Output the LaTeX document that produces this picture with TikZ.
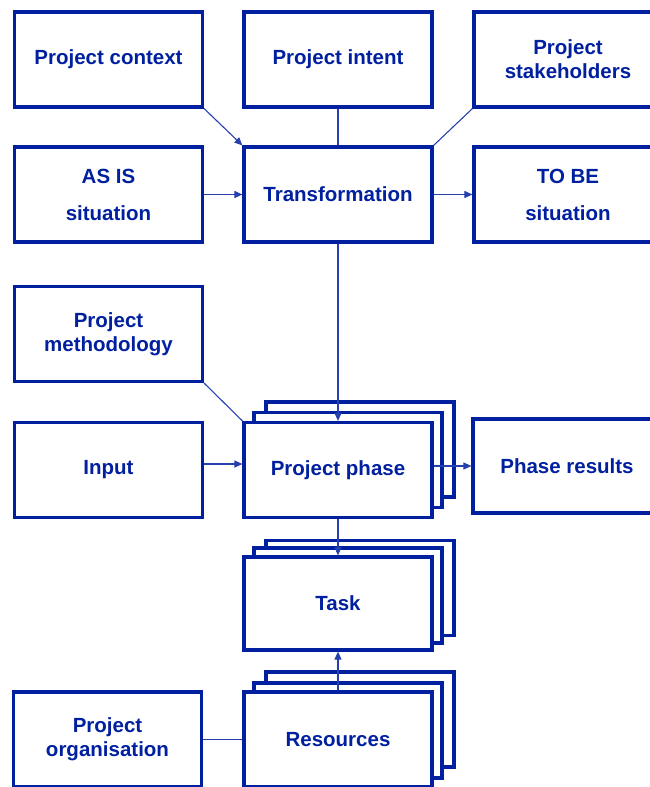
\documentclass[tikz,border=0pt]{standalone}
\usepackage{fontspec}
\setmainfont{Liberation Sans}
\usetikzlibrary{positioning,arrows.meta,calc}
\definecolor{pmblue}{RGB}{0,32,160}

\begin{document}
\begin{tikzpicture}[
  x=1pt, y=-1pt,
  font=\fontsize{20.5}{24}\selectfont\bfseries,
  >={Triangle[length=8pt,width=7pt]},
  box/.style={draw=pmblue, line width=3.2pt, fill=white, text=pmblue, minimum width=188pt, minimum height=95pt, align=center, inner sep=0pt},
  sheet/.style={box},
  link/.style={draw=pmblue!85, line width=1.1pt},
  arr/.style={link, ->}
]
\newcommand{\stackof}[4]{% two sheets behind a box
  \node[sheet] (#2b) at ($#1+(22,#4)$) {};
  \node[sheet] (#2a) at ($#1+(10,#3)$) {};}

\useasboundingbox (0,0) rectangle (649,787);

% top row
\node[box] (context) at (108.5,59.5) {Project context};
\node[box] (intent) at (338,59.5) {Project intent};
\node[box] (stake) at (568,59.5) {Project\\stakeholders};

% transformation row
\node[box] (asis) at (108.5,194.5) {AS IS\\[13pt]situation};
\node[box] (transf) at (338,194.5) {Transformation};
\node[box] (tobe) at (568,194.5) {TO BE\\[13pt]situation};

% phase row
\node[box] (method) at (108.5,334) {Project\\methodology};
\node[box] (input) at (108.5,470) {Input};
\stackof{(338,470)}{phase}{-10}{-20.5}
\node[box] (phase) at (338,470) {Project phase};
\node[box, minimum height=94pt] (results) at (567,466) {Phase results};

% task and resources
\stackof{(338,603.5)}{task}{-8}{-15.5}
\node[box, minimum height=93pt] (task) at (338,603.5) {Task};
\stackof{(338,739.5)}{res}{-9}{-20}
\node[box] (res) at (338,739.5) {Resources};
\node[box] (org) at (107.5,739.5) {Project\\organisation};

% connectors
\draw[arr] (context.south east) -- (transf.north west);
\draw[link] (intent) -- (transf);
\draw[link] (stake.south west) -- (transf.north east);
\draw[arr] (asis) -- (transf);
\draw[arr] (transf) -- (tobe);
\draw[arr] (transf) -- (phase);
\draw[link] (method.south east) -- (phase.north west);
\draw[arr] ([yshift=6pt]input.east) -- ([yshift=6pt]phase.west);
\draw[arr] (phase.east |- results) -- (results.west);
\draw[arr] (phase) -- (task);
\draw[arr] (res) -- (task);
\draw[link] (org) -- (res);

\end{tikzpicture}
\end{document}
